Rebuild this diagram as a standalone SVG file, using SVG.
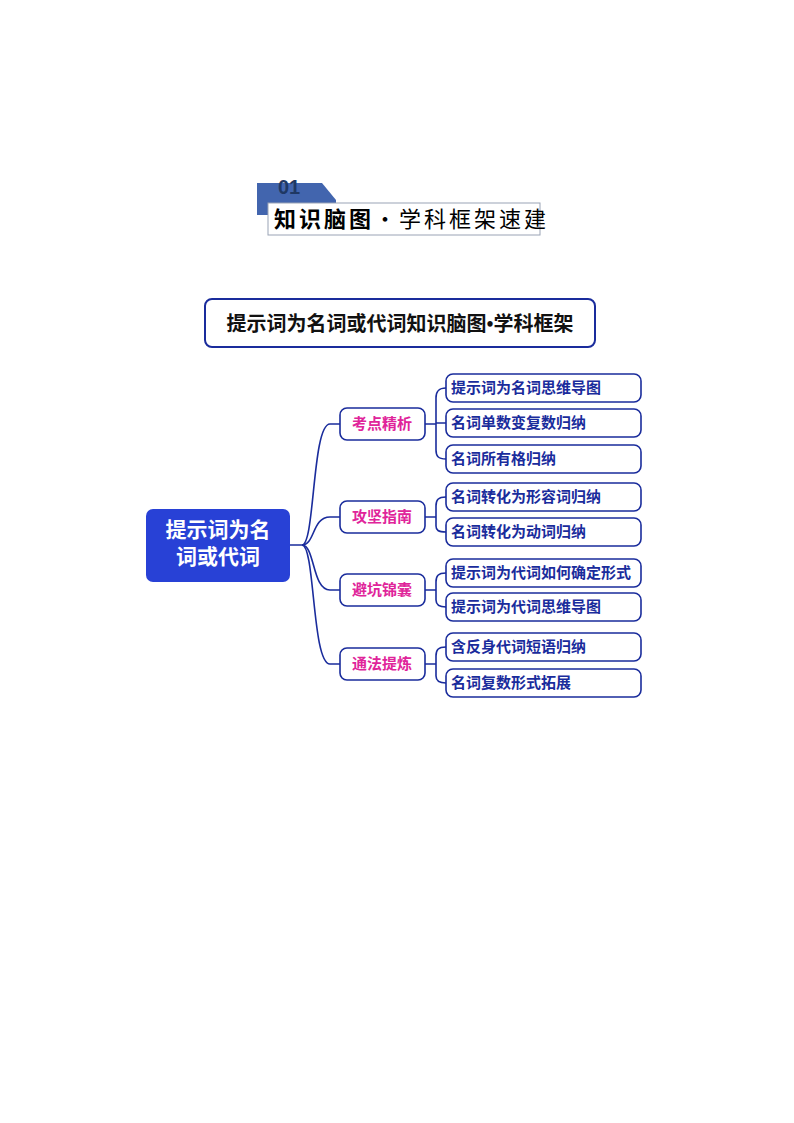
<svg xmlns="http://www.w3.org/2000/svg" width="794" height="1123" viewBox="0 0 794 1123">
<style>
.mid{fill:#fff;stroke:#1a2c9c;stroke-width:1.6}
.leaf{fill:#fff;stroke:#1a2c9c;stroke-width:1.6}
.mt{font-family:"Liberation Serif","Noto Sans CJK SC",serif;font-weight:bold;font-size:15px;fill:#e0249a;text-anchor:middle}
.lt{font-family:"Liberation Serif","Noto Sans CJK SC",serif;font-weight:bold;font-size:15px;fill:#1a2c9c}
.c{fill:none;stroke:#1a2c9c;stroke-width:1.6}
</style>
<rect width="794" height="1123" fill="#fff"/>
<g id="header">
<path d="M257 183 H322 L336 200 V215 H257 Z" fill="#4265ae"/>
<text x="278" y="194" font-family="Liberation Sans,sans-serif" font-weight="bold" font-size="20" fill="#1f3864">01</text>
<rect x="268" y="203" width="272" height="32" fill="#fff" stroke="#9aa3b5" stroke-width="1"/>
<text x="274" y="227" font-family="Noto Sans CJK SC,sans-serif" font-size="22" fill="#000" letter-spacing="3"><tspan font-weight="bold">知识脑图</tspan>·学科框架速建</text>
</g>
<g id="title">
<rect x="205" y="299" width="390" height="48" rx="7" fill="#fff" stroke="#1a2c9c" stroke-width="2"/>
<text x="400" y="331" font-family="Liberation Serif,Noto Sans CJK SC,serif" font-weight="bold" font-size="20" fill="#111" text-anchor="middle">提示词为名词或代词知识脑图•学科框架</text>
</g>
<g id="connectors">
<path class="c" d="M290 545 H302 C315 545 312 424 330 424 H340"/>
<path class="c" d="M302 545 C315 545 312 517 330 517 H340"/>
<path class="c" d="M302 545 C315 545 312 590 330 590 H340"/>
<path class="c" d="M302 545 C315 545 312 664 330 664 H340"/>
<path class="c" d="M425 424 H436 M446 388 C438 388 436 392 436 398 V450 C436 456 438 459 446 459 M436 423 H446"/>
<path class="c" d="M425 517 H436 M446 497 C438 497 436 500 436 506 V526 C436 530 438 532 446 532"/>
<path class="c" d="M425 590 H436 M446 573 C438 573 436 576 436 582 V600 C436 604 438 607 446 607"/>
<path class="c" d="M425 664 H436 M446 647 C438 647 436 650 436 656 V676 C436 680 438 683 446 683"/>
</g>
<g id="root">
<rect x="146" y="509" width="144" height="73" rx="7" fill="#2841d6"/>
<text x="218" y="537" font-family="Liberation Serif,Noto Sans CJK SC,serif" font-weight="bold" font-size="21" fill="#fff" text-anchor="middle">提示词为名</text>
<text x="218" y="564" font-family="Liberation Serif,Noto Sans CJK SC,serif" font-weight="bold" font-size="21" fill="#fff" text-anchor="middle">词或代词</text>
</g>
<g id="m1"><rect class="mid" x="340" y="408" width="85" height="32" rx="7"/><text class="mt" x="382" y="429">考点精析</text></g>
<g id="m2"><rect class="mid" x="340" y="501" width="85" height="32" rx="7"/><text class="mt" x="382" y="522">攻坚指南</text></g>
<g id="m3"><rect class="mid" x="340" y="574" width="85" height="32" rx="7"/><text class="mt" x="382" y="595">避坑锦囊</text></g>
<g id="m4"><rect class="mid" x="340" y="648" width="85" height="32" rx="7"/><text class="mt" x="382" y="669">通法提炼</text></g>
<g id="l1"><rect class="leaf" x="446" y="374" width="195" height="28" rx="7"/><text class="lt" x="451" y="393">提示词为名词思维导图</text></g>
<g id="l2"><rect class="leaf" x="446" y="409" width="195" height="28" rx="7"/><text class="lt" x="451" y="428">名词单数变复数归纳</text></g>
<g id="l3"><rect class="leaf" x="446" y="445" width="195" height="28" rx="7"/><text class="lt" x="451" y="464">名词所有格归纳</text></g>
<g id="l4"><rect class="leaf" x="446" y="483" width="195" height="28" rx="7"/><text class="lt" x="451" y="502">名词转化为形容词归纳</text></g>
<g id="l5"><rect class="leaf" x="446" y="518" width="195" height="28" rx="7"/><text class="lt" x="451" y="537">名词转化为动词归纳</text></g>
<g id="l6"><rect class="leaf" x="446" y="559" width="195" height="28" rx="7"/><text class="lt" x="451" y="578">提示词为代词如何确定形式</text></g>
<g id="l7"><rect class="leaf" x="446" y="593" width="195" height="28" rx="7"/><text class="lt" x="451" y="612">提示词为代词思维导图</text></g>
<g id="l8"><rect class="leaf" x="446" y="633" width="195" height="28" rx="7"/><text class="lt" x="451" y="652">含反身代词短语归纳</text></g>
<g id="l9"><rect class="leaf" x="446" y="669" width="195" height="28" rx="7"/><text class="lt" x="451" y="688">名词复数形式拓展</text></g>
</svg>
